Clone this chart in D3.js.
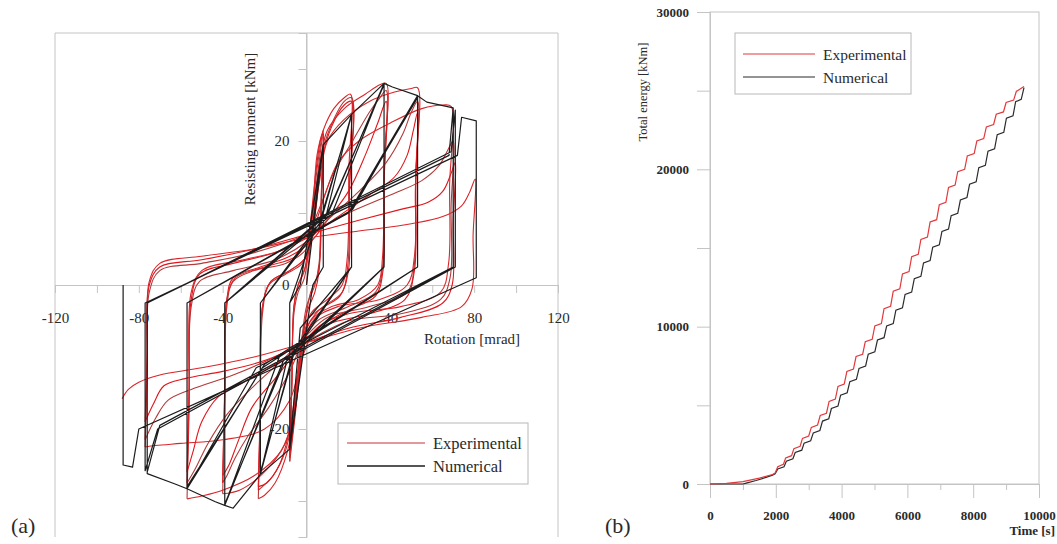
<!DOCTYPE html>
<html>
<head>
<meta charset="utf-8">
<script src="https://cdn.jsdelivr.net/npm/d3@7"></script>
<style>
  body { margin: 0; background: #fff; }
  svg { display: block; font-family: "Liberation Serif", "Times New Roman", serif; }
</style>
</head>
<body>
<svg id="chart" width="1057" height="544"></svg>
<script>
// ---- (a) moment-rotation hysteresis ----
const rotLabels = [-120, -80, -40, 40, 80, 120];
const rotTickValues = [-120, -100, -80, -60, -40, -20, 0, 20, 40, 60, 80, 100, 120];
const momentLabels = [-20, 0, 20];
const momentTickValues = [-30, -20, -10, 0, 10, 20, 30];

// experimental cycles, each a list of [rotation mrad, moment kNm]
const expCycles = [
  [[0,0],[3,9],[6,17],[8,21],[7.2,14],[6.5,4],[5,1],[2,-1],[-2,-8],[-5,-17],[-8,-24.5]],
  [[-8,-24.5],[-7,-14],[-6,-4],[-4,-1],[-1,1],[2,8],[5,16],[7,20],[8,21.5],[7,12],[6,3],[4,0],[0,-3],[-3,-10],[-6,-19],[-8,-24]],
  [[-8,-24],[-7,-13],[-6,-3],[-4,0],[-1,2],[2,9],[5,17],[7,20.5],[8,21],[7,11],[6,2],[4,-1],[0,-4],[-3,-11],[-6,-19],[-8,-23.5]],
  [[-8,-23.5],[-7,-14],[-6,-3],[-4,0],[0,3],[3,10],[5,18],[8,21.5],[13,24.5],[18,26],[21,26.5],[20.2,16],[19.5,4],[17,0],[10,-2],[2,-4],[-3,-10],[-6,-18],[-9,-23],[-15,-27.5],[-20,-29.2],[-23,-29.7]],
  [[-23,-29.7],[-22,-18],[-21,-4],[-18,0],[-10,1.5],[-2,3],[2,6],[5,13],[8,19],[13,23],[18,25.5],[21.5,26],[20.5,14],[19.8,3],[17,-1],[8,-3],[0,-5],[-3,-9],[-6,-17],[-10,-23],[-16,-26.5],[-23,-28.5]],
  [[-23,-28.5],[-22,-17],[-21,-3],[-17,0.5],[-8,2],[0,4],[4,10],[7,17],[12,22],[18,25],[21.5,25.5],[20.5,13],[20,2],[16,-1.5],[6,-3.5],[0,-6],[-4,-12],[-8,-20],[-13,-25],[-19,-27.5],[-23,-28]],
  [[-23,-28],[-22,-16],[-21,-3],[-17,0.5],[-8,2],[0,4],[4,11],[7,18],[10,21.5],[18,24.5],[28,26.5],[35,27.8],[38,28],[37,17],[36.3,4],[34,0],[25,-2],[12,-3],[2,-5],[-3,-11],[-7,-19],[-12,-23],[-22,-26.5],[-32,-28.5],[-40,-29]],
  [[-40,-29],[-39,-17],[-38,-3],[-35,0.5],[-25,2],[-10,3],[0,5],[6,10],[12,15],[22,20],[30,24],[35,26],[38,27],[37,15],[36.5,3],[33,-1],[20,-3],[5,-5],[-2,-8],[-8,-12],[-18,-17],[-28,-21],[-34,-24],[-38,-26.5],[-40,-27.5]],
  [[-40,-27.5],[-39,-15],[-38,-2],[-35,1],[-22,2.5],[-8,4],[2,6],[10,9],[20,13],[28,18],[34,22.5],[38,25.5],[37,14],[36.5,2],[33,-1.5],[20,-3.5],[5,-6],[-4,-9],[-15,-13],[-26,-17],[-33,-22],[-37,-25],[-40,-26.5]],
  [[-40,-26.5],[-39,-14],[-38,-2],[-34,1],[-20,2.5],[-5,4],[2,7],[6,14],[10,20],[18,23],[30,25.5],[42,26.8],[50,27.3],[53,27.4],[52.2,16],[51.5,4],[48,0],[35,-2],[15,-3],[3,-5],[-2,-10],[-6,-18],[-12,-23],[-25,-26.5],[-40,-28.5],[-50,-29.3],[-57,-29.7]],
  [[-57,-29.7],[-56,-17],[-55,-3],[-51,0.5],[-35,2],[-15,3.5],[0,6],[10,9],[25,13],[38,17],[46,21],[50,24],[53,25.5],[52,14],[51.5,3],[48,-1],[30,-3],[10,-4.5],[0,-7],[-10,-10],[-25,-14],[-38,-18],[-47,-22],[-53,-25.5],[-57,-27.5]],
  [[-57,-27.5],[-56,-15],[-55,-2],[-51,1.5],[-35,3],[-15,4.5],[0,6.5],[15,9.5],[30,12.5],[42,15],[48,18],[51,21.5],[53,24],[52,13],[51.5,2],[47,-2],[30,-4],[10,-5.5],[0,-8],[-15,-11],[-30,-13.5],[-42,-15.5],[-50,-19],[-54,-23],[-57,-26]],
  [[-57,-26],[-56,-14],[-55,-1],[-50,2],[-30,3.5],[-10,5],[0,7],[8,12],[15,17],[25,20],[40,22.5],[55,24.5],[65,25],[69,24.8],[68.3,14],[67.8,3],[64,-1],[45,-3],[20,-4],[5,-6],[-2,-10],[-8,-16],[-20,-20],[-40,-21.5],[-60,-22],[-72,-22.3],[-77,-22.5]],
  [[-77,-22.5],[-76,-12],[-75,-1],[-70,2],[-50,3],[-25,4.5],[0,7],[20,10],[40,12.5],[55,14.5],[63,16.5],[67,18.5],[70,20],[69,11],[68.5,1],[64,-2],[45,-4],[20,-5],[2,-7.5],[-15,-10],[-35,-12.5],[-55,-14.5],[-66,-16],[-72,-18.5],[-77,-21.5]],
  [[-77,-21.5],[-76,-10],[-75,0],[-70,2.5],[-50,3.5],[-25,5],[0,7],[25,9],[45,10.5],[58,11.5],[65,13],[69,15.5],[71,17],[70,9],[69.5,0],[65,-2.5],[45,-4.5],[20,-6],[0,-8],[-20,-10.5],[-40,-12],[-58,-13],[-68,-14],[-73,-16.5],[-77,-19]],
  [[-77,-19],[-76,-9],[-75,0.5],[-70,3],[-50,4],[-25,5],[0,6.5],[25,7.5],[50,8.5],[65,9.5],[74,11],[78,13],[80.5,14.7],[79.5,7],[79,-0.5],[74,-3],[55,-4.5],[25,-6],[0,-8],[-25,-10],[-50,-11.5],[-70,-12.5],[-80,-13.5],[-85,-14.5],[-88,-15.8]]
];
const expShades = ["#d9262b", "#b23a3a", "#e0161c"];

// numerical response, one continuous path
const numRotation = [
  0, 8, 8, 3, -8, -8, -3, 8, 8, 3, -8, -8, -3, 8, 8, 3, -8, -8,
  2, 8, 21.5, 21.5, -3, -8, -22, -22,
  6, 21.5, 21.5, -6, -22, -22,
  6, 21.5, 21.5, -6, -22, -22,
  9.5, 21.5, 37, 37, -9, -22, -35, -39, -39,
  10, 37, 37, -11, -39, -39,
  10, 37, 37, -11, -39, -39,
  12, 37, 41, 53, 53, -13, -39, -43.5, -57, -57,
  20, 53, 53, -20, -57, -57,
  21, 53, 53, -21, -57, -57,
  22, 53, 57.4, 70, 70, -24, -57, -63, -76, -76,
  68, 70, 70, -70, -76, -76,
  69, 71, 71, -71, -77, -77,
  72, 74, 81, 81, -80, -83, -87.5, -87.5
];
const numMoment = [
  0, 19.5, 2.5, 0, -22.8, -2.5, 0, 19.5, 2.5, 0, -22.8, -2.5, 0, 19.3, 2.5, 0, -22.6, -2.5,
  6, 19.5, 23.7, 2.5, -6, -22.8, -26.3, -2.5,
  8, 23.7, 2.5, -9, -26.3, -2.5,
  8.5, 23.5, 2.5, -9.5, -26, -2.5,
  9.8, 23.7, 28, 2.5, -10, -26.3, -31, -30.6, -2.5,
  9.8, 28, 2.5, -10.5, -30.6, -2.5,
  10, 27.8, 2.5, -11, -30.4, -2.5,
  9.8, 28, 27.5, 26.3, 2.5, -10, -30.6, -30.1, -28.3, -2.5,
  10, 26.3, 2.5, -11, -28.3, -2.5,
  10.3, 26, 2.5, -11.5, -28, -2.5,
  10.5, 26.3, 25.4, 24.6, 2.5, -11.5, -28.3, -27.6, -26.2, -2.5,
  18, 24.6, 2.5, -19.5, -26, -2.5,
  18.5, 24.3, 2.5, -20, -25.8, -2.5,
  18, 23.3, 22.8, 1, -20, -25.3, -25, 0
];

// ---- (b) total energy vs time ----
const timeTickValues = d3.range(0, 10001, 1000);
const timeLabels = [0, 2000, 4000, 6000, 8000, 10000];
const energyTickValues = [0, 5000, 10000, 15000, 20000, 25000, 30000];
const energyLabels = [0, 10000, 20000, 30000];

const timeExp = [0, 500, 1000, 1500, 1900, 1980, 2060, 2230, 2300, 2480, 2550, 2740, 2810, 3000, 3080, 3270, 3350, 3540, 3620, 3810, 3890, 4080, 4160, 4360, 4440, 4640, 4720, 4930, 5010, 5210, 5290, 5490, 5570, 5770, 5850, 6050, 6130, 6330, 6410, 6610, 6690, 6890, 6970, 7170, 7250, 7450, 7530, 7740, 7820, 8030, 8110, 8320, 8400, 8620, 8700, 8920, 9000, 9230, 9310, 9544];
const energyExp = [0, 40, 150, 370, 600, 700, 1100, 1250, 1650, 1800, 2250, 2400, 2900, 3050, 3600, 3750, 4350, 4500, 5250, 5400, 6200, 6350, 7150, 7300, 8100, 8250, 9050, 9200, 10050, 10200, 11150, 11300, 12250, 12400, 13350, 13500, 14450, 14600, 15550, 15700, 16650, 16800, 17750, 17900, 18850, 19000, 19850, 20000, 20850, 21000, 21800, 21950, 22700, 22850, 23500, 23650, 24250, 24400, 24950, 25270];
const timeNum = [0, 1000, 1100, 1400, 1700, 1900, 1980, 2060, 2250, 2320, 2520, 2590, 2790, 2860, 3060, 3140, 3340, 3420, 3610, 3690, 3890, 3970, 4170, 4250, 4450, 4530, 4730, 4810, 5010, 5090, 5290, 5370, 5570, 5650, 5850, 5930, 6130, 6210, 6410, 6490, 6690, 6770, 6970, 7050, 7250, 7330, 7530, 7610, 7810, 7890, 8090, 8170, 8370, 8450, 8650, 8730, 8930, 9010, 9210, 9290, 9460, 9544];
const energyNum = [0, 0, 60, 220, 420, 560, 650, 950, 1100, 1450, 1600, 2000, 2150, 2600, 2750, 3250, 3400, 4000, 4150, 4800, 4950, 5650, 5800, 6500, 6650, 7350, 7500, 8250, 8400, 9150, 9300, 10050, 10200, 11050, 11200, 12050, 12200, 13050, 13200, 14050, 14200, 15050, 15200, 16050, 16200, 17050, 17200, 18050, 18200, 19050, 19200, 20100, 20250, 21150, 21300, 22200, 22350, 23250, 23400, 24300, 24450, 25200];

const svg = d3.select("#chart");
const gridColor = "#c4c4c4";
const textColor = "#2a2a2a";

// ================= panel (a) =================
const xRot = d3.scaleLinear().domain([-120, 120]).range([55, 558]);
const yMom = d3.scaleLinear().domain([-35, 35]).range([537, 33]);

const panelA = svg.append("g");

// frame (open at the bottom)
panelA.append("path")
  .attr("d", `M${xRot(-120)},${yMom(-35)}V${yMom(35)}H${xRot(120)}V${yMom(-35)}`)
  .attr("fill", "none")
  .attr("stroke", gridColor);

// axes through the origin
const xAxisA = panelA.append("g")
  .attr("transform", `translate(0,${yMom(0)})`)
  .call(d3.axisBottom(xRot).tickValues(rotTickValues).tickSize(8).tickPadding(19)
    .tickFormat(d => rotLabels.includes(d) ? String(d) : ""));
const yAxisA = panelA.append("g")
  .attr("transform", `translate(${xRot(0)},0)`)
  .call(d3.axisLeft(yMom).tickValues(momentTickValues).tickSize(8).tickPadding(9)
    .tickFormat(d => momentLabels.includes(d) ? String(d) : ""));

[xAxisA, yAxisA].forEach(ax => {
  ax.select(".domain").attr("stroke", gridColor);
  ax.selectAll(".tick line").attr("stroke", gridColor);
  ax.selectAll(".tick text")
    .attr("fill", textColor)
    .style("font-size", "15px")
    .style("font-family", "'Liberation Serif', serif");
});
// extend y axis over the full frame height
panelA.append("line")
  .attr("x1", xRot(0)).attr("x2", xRot(0))
  .attr("y1", yMom(35)).attr("y2", yMom(-35))
  .attr("stroke", gridColor);

panelA.append("text")
  .attr("x", 472).attr("y", 344)
  .attr("text-anchor", "middle")
  .attr("fill", textColor)
  .style("font-size", "15px")
  .text("Rotation [mrad]");

panelA.append("text")
  .attr("transform", "translate(255,129) rotate(-90)")
  .attr("text-anchor", "middle")
  .attr("fill", textColor)
  .style("font-size", "15px")
  .text("Resisting moment [kNm]");

const expLine = d3.line()
  .x(d => xRot(d[0]))
  .y(d => yMom(d[1]))
  .curve(d3.curveCatmullRom.alpha(0.5));

panelA.append("g")
  .selectAll("path")
  .data(expCycles)
  .join("path")
  .attr("d", expLine)
  .attr("fill", "none")
  .attr("stroke", (d, i) => expShades[i % expShades.length])
  .attr("stroke-width", 1.1);

const numPoints = numRotation.map((r, i) => [r, numMoment[i]]);
panelA.append("path")
  .datum(numPoints)
  .attr("d", d3.line().x(d => xRot(d[0])).y(d => yMom(d[1])))
  .attr("fill", "none")
  .attr("stroke", "#1c1c1c")
  .attr("stroke-width", 1.2)
  .attr("stroke-linejoin", "round");

// legend (a)
const legA = panelA.append("g");
legA.append("rect")
  .attr("x", 338).attr("y", 423).attr("width", 190).attr("height", 61)
  .attr("fill", "#fff").attr("stroke", "#b8b8b8");
legA.append("line").attr("x1", 347).attr("x2", 425).attr("y1", 443).attr("y2", 443)
  .attr("stroke", "#c8343a").attr("stroke-width", 1.2);
legA.append("line").attr("x1", 347).attr("x2", 425).attr("y1", 466).attr("y2", 466)
  .attr("stroke", "#1c1c1c").attr("stroke-width", 1.5);
legA.append("text").attr("x", 433).attr("y", 449).attr("fill", textColor)
  .style("font-size", "16.5px").text("Experimental");
legA.append("text").attr("x", 433).attr("y", 472).attr("fill", textColor)
  .style("font-size", "16.5px").text("Numerical");

svg.append("text").attr("x", 11).attr("y", 533)
  .attr("fill", textColor).style("font-size", "22px").text("(a)");

// ================= panel (b) =================
const xTime = d3.scaleLinear().domain([0, 10000]).range([710, 1039]);
const yEnergy = d3.scaleLinear().domain([0, 30000]).range([484, 12]);

const panelB = svg.append("g");

panelB.append("rect")
  .attr("x", xTime(0)).attr("y", yEnergy(30000))
  .attr("width", xTime(10000) - xTime(0))
  .attr("height", yEnergy(0) - yEnergy(30000))
  .attr("fill", "none")
  .attr("stroke", gridColor);

const yAxisB = panelB.append("g")
  .attr("transform", `translate(${xTime(0)},0)`)
  .call(d3.axisLeft(yEnergy).tickValues(energyTickValues).tickSize(13).tickPadding(8)
    .tickFormat(d => energyLabels.includes(d) ? String(d) : ""));
const xMinorB = panelB.append("g")
  .attr("transform", `translate(0,${yEnergy(0)})`)
  .call(d3.axisBottom(xTime).tickValues(timeTickValues.filter(d => !timeLabels.includes(d)))
    .tickSize(6).tickFormat(""));
const xAxisB = panelB.append("g")
  .attr("transform", `translate(0,${yEnergy(0)})`)
  .call(d3.axisBottom(xTime).tickValues(timeLabels).tickSize(14).tickPadding(13)
    .tickFormat(d => String(d)));

[yAxisB, xMinorB, xAxisB].forEach(ax => {
  ax.select(".domain").attr("stroke", gridColor);
  ax.selectAll(".tick line").attr("stroke", gridColor);
  ax.selectAll(".tick text")
    .attr("fill", textColor)
    .style("font-size", "13px")
    .style("font-weight", "bold")
    .style("font-family", "'Liberation Serif', serif");
});

panelB.append("text")
  .attr("x", 1055).attr("y", 535)
  .attr("text-anchor", "end")
  .attr("fill", textColor)
  .style("font-size", "13px")
  .style("font-weight", "bold")
  .text("Time [s]");

panelB.append("text")
  .attr("transform", "translate(647,92) rotate(-90)")
  .attr("text-anchor", "middle")
  .attr("fill", textColor)
  .style("font-size", "12.5px")
  .text("Total energy [kNm]");

const energyLine = d3.line().x(d => xTime(d[0])).y(d => yEnergy(d[1]));

panelB.append("path")
  .datum(timeNum.map((t, i) => [t, energyNum[i]]))
  .attr("d", energyLine)
  .attr("fill", "none")
  .attr("stroke", "#2b2b2b")
  .attr("stroke-width", 1.2);

panelB.append("path")
  .datum(timeExp.map((t, i) => [t, energyExp[i]]))
  .attr("d", energyLine)
  .attr("fill", "none")
  .attr("stroke", "#e2393c")
  .attr("stroke-width", 1.2);

// legend (b)
const legB = panelB.append("g");
legB.append("rect")
  .attr("x", 735).attr("y", 33).attr("width", 176).attr("height", 61)
  .attr("fill", "#fff").attr("stroke", "#b8b8b8");
legB.append("line").attr("x1", 743).attr("x2", 815).attr("y1", 54).attr("y2", 54)
  .attr("stroke", "#e2393c").attr("stroke-width", 1.2);
legB.append("line").attr("x1", 743).attr("x2", 815).attr("y1", 77).attr("y2", 77)
  .attr("stroke", "#2b2b2b").attr("stroke-width", 1.2);
legB.append("text").attr("x", 823).attr("y", 60).attr("fill", textColor)
  .style("font-size", "15.5px").text("Experimental");
legB.append("text").attr("x", 823).attr("y", 83).attr("fill", textColor)
  .style("font-size", "15.5px").text("Numerical");

svg.append("text").attr("x", 605).attr("y", 533)
  .attr("fill", textColor).style("font-size", "22px").text("(b)");
</script>
</body>
</html>
